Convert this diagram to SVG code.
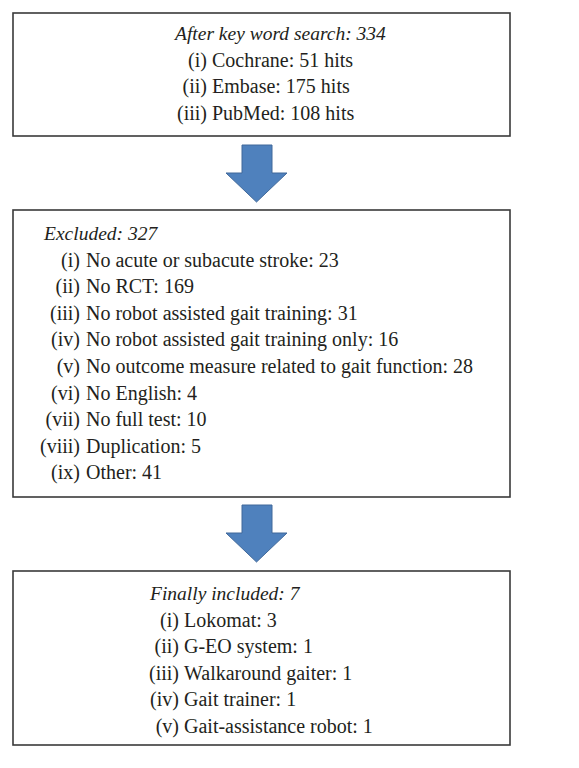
<svg xmlns="http://www.w3.org/2000/svg" width="579" height="768" viewBox="0 0 579 768">
<style>
.box{fill:#fff;stroke:#3a3a3a;stroke-width:1.6}
.t{font-family:"Liberation Serif","Times New Roman",serif;font-size:20px;fill:#231f20}
.it{font-style:italic;font-size:19.5px}
.n{text-anchor:end}
.arrow{fill:#4f81bd;stroke:#41699a;stroke-width:1}
</style>
<rect width="579" height="768" fill="#fff"/>
<g id="search">
<rect class="box" x="13" y="13" width="497" height="123"/>
<text class="t it" x="175" y="40">After key word search: 334</text>
<text class="t n" x="207" y="66.6">(i)</text><text class="t" x="212" y="66.6">Cochrane: 51 hits</text>
<text class="t n" x="207" y="93.2">(ii)</text><text class="t" x="212" y="93.2">Embase: 175 hits</text>
<text class="t n" x="207" y="119.8">(iii)</text><text class="t" x="212" y="119.8">PubMed: 108 hits</text>
</g>
<g id="excluded">
<rect class="box" x="13" y="210" width="497" height="287"/>
<text class="t it" x="44" y="240">Excluded: 327</text>
<text class="t n" x="80" y="266.6">(i)</text><text class="t" x="86" y="266.6">No acute or subacute stroke: 23</text>
<text class="t n" x="80" y="293.2">(ii)</text><text class="t" x="86" y="293.2">No RCT: 169</text>
<text class="t n" x="80" y="319.8">(iii)</text><text class="t" x="86" y="319.8">No robot assisted gait training: 31</text>
<text class="t n" x="80" y="346.4">(iv)</text><text class="t" x="86" y="346.4">No robot assisted gait training only: 16</text>
<text class="t n" x="80" y="373">(v)</text><text class="t" x="86" y="373">No outcome measure related to gait function: 28</text>
<text class="t n" x="80" y="399.6">(vi)</text><text class="t" x="86" y="399.6">No English: 4</text>
<text class="t n" x="80" y="426.2">(vii)</text><text class="t" x="86" y="426.2">No full test: 10</text>
<text class="t n" x="80" y="452.8">(viii)</text><text class="t" x="86" y="452.8">Duplication: 5</text>
<text class="t n" x="80" y="479.4">(ix)</text><text class="t" x="86" y="479.4">Other: 41</text>
</g>
<g id="included">
<rect class="box" x="13" y="571" width="497" height="174"/>
<text class="t it" x="150" y="600">Finally included: 7</text>
<text class="t n" x="179" y="626.6">(i)</text><text class="t" x="184" y="626.6">Lokomat: 3</text>
<text class="t n" x="179" y="653.2">(ii)</text><text class="t" x="184" y="653.2">G-EO system: 1</text>
<text class="t n" x="179" y="679.8">(iii)</text><text class="t" x="184" y="679.8">Walkaround gaiter: 1</text>
<text class="t n" x="179" y="706.4">(iv)</text><text class="t" x="184" y="706.4">Gait trainer: 1</text>
<text class="t n" x="179" y="733">(v)</text><text class="t" x="184" y="733">Gait-assistance robot: 1</text>
</g>
<g id="connectors">
<polygon class="arrow" points="242,145 272,145 272,173 287,173 256.5,202 226,173 242,173"/>
<polygon class="arrow" points="242,505 272,505 272,533 287,533 256.5,562 226,533 242,533"/>
</g>
</svg>
